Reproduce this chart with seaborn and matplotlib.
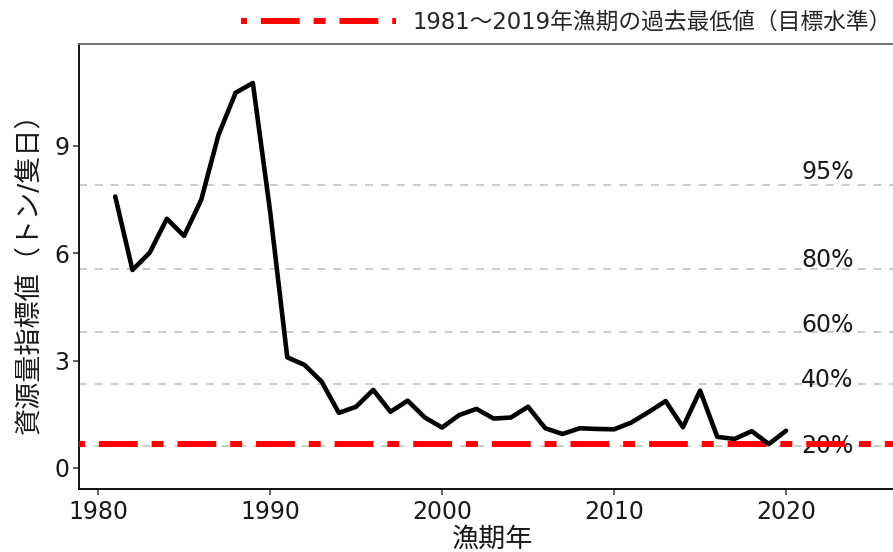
import matplotlib
matplotlib.use("Agg")
import matplotlib.pyplot as plt
import seaborn as sns
import numpy as np
import pandas as pd

# ---- data ----
years = list(range(1981, 2021))
index_values = [7.58, 5.53, 6.01, 6.96, 6.48, 7.49, 9.30, 10.48, 10.75, 7.18,
                3.09, 2.88, 2.41, 1.54, 1.71, 2.18, 1.57, 1.88, 1.41, 1.13,
                1.48, 1.65, 1.38, 1.41, 1.71, 1.11, 0.95, 1.11, 1.09, 1.08,
                1.27, 1.56, 1.87, 1.14, 2.16, 0.87, 0.81, 1.03, 0.67, 1.04]
pct_labels = ["95%", "80%", "60%", "40%", "20%"]
pct_levels = [7.89, 5.55, 3.81, 2.34, 0.61]
pct_label_y = [8.27, 5.80, 4.00, 2.45, 0.62]
pct_label_x = 2022.4
target_label = "1981～2019年漁期の過去最低値（目標水準）"
xlabel = "漁期年"
ylabel = "資源量指標値（トン/隻日）"
xticks = [1980, 1990, 2000, 2010, 2020]
yticks = [0, 3, 6, 9]

df = pd.DataFrame({"year": years, "value": index_values})
target = min(v for y, v in zip(years, index_values) if y <= 2019)

sns.set_theme(style="white")
plt.rcParams["font.family"] = ["DejaVu Sans", "Noto Sans CJK JP"]

fig = plt.figure(figsize=(8.93, 5.52), dpi=100)
ax = fig.add_axes([0.0885, 0.1141, 0.9272, 0.8062])

# percentile reference lines
for lv in pct_levels:
    ax.axhline(lv, color="#bebebe", lw=1.1, linestyle=(0, (5.2, 5.2)), zorder=1)
for lab, ly in zip(pct_labels, pct_label_y):
    ax.text(pct_label_x, ly, lab, ha="center", va="center", fontsize=17,
            color="#1a1a1a", zorder=2)

# target line
red = ax.axhline(target, color="#ff0000", lw=4.3,
                 linestyle=(1.0, (2.0, 2.33, 6.5, 2.33)), zorder=3,
                 label=target_label)

sns.lineplot(data=df, x="year", y="value", ax=ax, color="black", lw=3.3,
             zorder=4, legend=False)

ax.set_xlim(1978.895, 2027.03)
ax.set_ylim(-0.587, 11.84)
ax.set_xticks(xticks)
ax.set_yticks(yticks)
ax.tick_params(axis="both", which="major", bottom=True, left=True,
               direction="out", labelsize=17, colors="#333333", length=4,
               width=1.1, pad=3, labelcolor="#1a1a1a")
ax.tick_params(axis="x", pad=4)
ax.set_xlabel(xlabel, fontsize=19.5, color="#1a1a1a", labelpad=2)
ax.set_ylabel(ylabel, fontsize=19.5, color="#1a1a1a", labelpad=9)

for s in ["left", "bottom"]:
    ax.spines[s].set_color("black")
    ax.spines[s].set_linewidth(1.3)
ax.spines["top"].set_color("#666666")
ax.spines["top"].set_linewidth(1.3)
ax.spines["right"].set_visible(False)

fig.legend(handles=[red], labels=[target_label], loc="center right",
           bbox_to_anchor=(892 / 893, 1 - 22 / 552), frameon=False,
           fontsize=16.4, handlelength=6.8, handletextpad=0.75,
           borderpad=0, borderaxespad=0)

fig.savefig("out.png", dpi=100)
